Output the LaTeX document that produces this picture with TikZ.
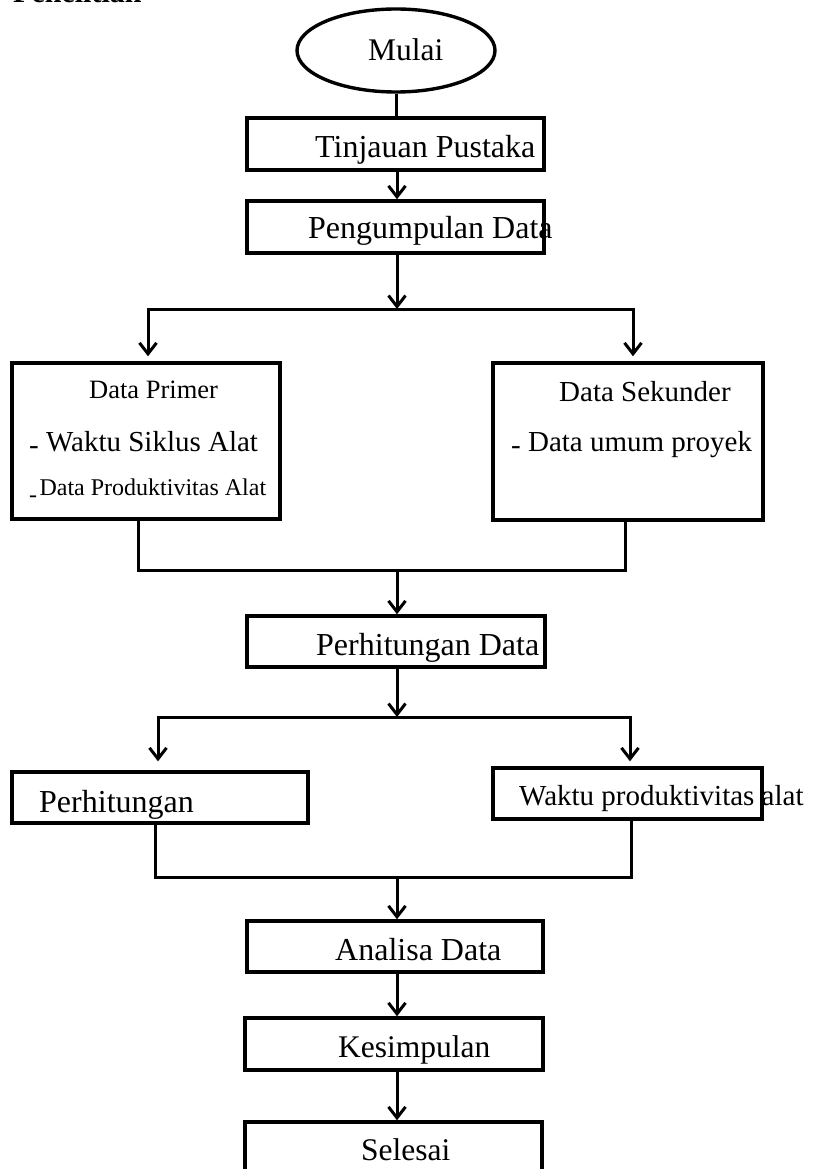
\documentclass[tikz,border=0pt]{standalone}
\usepackage{fontspec}
\setmainfont{Liberation Serif}
\usetikzlibrary{arrows.meta,shapes.geometric}
\newcommand\fsz[1]{\fontsize{#1}{#1}\selectfont}
\tikzset{
  box/.style={draw, line width=3.4pt, rectangle, inner sep=0pt},
  conn/.style={line width=3pt},
  arr/.style={conn, -{Straight Barb[length=11pt,width=17pt]}},
  lbl/.style={anchor=base west, inner sep=0pt, font=\fsz{32}},
}
\begin{document}
\begin{tikzpicture}[x=1pt,y=-1pt]
\clip (0,0) rectangle (813,1169);
\useasboundingbox (0,0) rectangle (813,1169);
\fill[white] (0,0) rectangle (813,1169);

% title (cut off at top)
\node[lbl, font=\bfseries\fsz{30}] (pen) at (13,3) {Penelitian};

% shapes
\node[ellipse, draw, line width=3.4pt, minimum width=198pt, minimum height=83pt, inner sep=0pt] (mulai) at (396,50.5) {};
\node[box, minimum width=297pt, minimum height=52pt] (tp) at (395.5,144) {};
\node[box, minimum width=297pt, minimum height=52pt] (pd) at (395.5,227) {};
\node[box, minimum width=268pt, minimum height=156pt] (dp) at (146,441) {};
\node[box, minimum width=270pt, minimum height=157pt] (ds) at (628,441.5) {};
\node[box, minimum width=298pt, minimum height=51pt] (phd) at (396,641.5) {};
\node[box, minimum width=296pt, minimum height=51pt] (ph) at (160,797.5) {};
\node[box, minimum width=269pt, minimum height=51pt] (wp) at (627.5,793.5) {};
\node[box, minimum width=296pt, minimum height=51pt] (an) at (395,946.5) {};
\node[box, minimum width=298pt, minimum height=52pt] (ks) at (394,1044) {};
\node[box, minimum width=297pt, minimum height=80pt] (sl) at (393.5,1162) {};

% labels
\node[lbl, font=\fsz{31.5}] (tmulai) at (368,61) {Mulai};
\node[lbl] (ttp) at (315,158) {Tinjauan Pustaka};
\node[lbl] (tpd) at (308,238) {Pengumpulan Data};
\node[lbl, font=\fsz{26.5}] (tdp) at (89,398) {Data Primer};
\node[lbl, font=\fsz{29}] (tdp1) at (29,451) {\raisebox{-0.12em}{-} Waktu Siklus Alat};
\node[lbl, font=\fsz{24}] (tdp2) at (29,495) {\raisebox{-0.3em}{-}\hspace{0.1em}Data Produktivitas Alat};
\node[lbl, font=\fsz{29}] (tds) at (559,401) {Data Sekunder};
\node[lbl, font=\fsz{29}] (tds1) at (511,451) {\raisebox{-0.12em}{-} Data umum proyek};
\node[lbl] (tphd) at (316,655) {Perhitungan Data};
\node[lbl] (tph) at (39,812) {Perhitungan};
\node[lbl, font=\fsz{29}] (twp) at (519,805) {Waktu produktivitas alat};
\node[lbl] (tan) at (335,960) {Analisa Data};
\node[lbl, font=\fsz{31.5}] (tks) at (338,1057) {Kesimpulan};
\node[lbl, font=\fsz{31.5}] (tsl) at (361,1160) {Selesai};

% junction coordinates
\coordinate (b1) at (397,309);
\coordinate (b1l) at (148,309);
\coordinate (b1r) at (633,309);
\coordinate (b2) at (397,570);
\coordinate (b2l) at (138,570);
\coordinate (b2r) at (625,570);
\coordinate (b3) at (397,717);
\coordinate (b3l) at (158,717);
\coordinate (b3r) at (630,717);
\coordinate (b4) at (397,877);
\coordinate (b4l) at (155,877);
\coordinate (b4r) at (631,877);

% connectors
\draw[conn] (mulai.south) -- (mulai.south |- tp.north);
\draw[arr] (tp.south -| b1) -- (pd.north -| b1);
\draw[arr] (pd.south -| b1) -- (b1);
\draw[conn, line cap=rect] (b1l) -- (b1r);
\draw[arr, shorten >=5pt] (b1l) -- (b1l |- dp.north);
\draw[arr, shorten >=5pt] (b1r) -- (b1r |- ds.north);
\draw[conn, line cap=rect] (b2l |- dp.south) -- (b2l) -- (b2r) -- (b2r |- ds.south);
\draw[arr] (b2) -- (b2 |- phd.north);
\draw[arr] (phd.south -| b3) -- (b3);
\draw[conn, line cap=rect] (b3l) -- (b3r);
\draw[arr, shorten >=9pt] (b3l) -- (b3l |- ph.north);
\draw[arr, shorten >=5pt] (b3r) -- (b3r |- wp.north);
\draw[conn, line cap=rect] (b4l |- ph.south) -- (b4l) -- (b4r) -- (b4r |- wp.south);
\draw[arr] (b4) -- (b4 |- an.north);
\draw[arr] (an.south -| b4) -- (ks.north -| b4);
\draw[arr] (ks.south -| b4) -- (sl.north -| b4);
\end{tikzpicture}
\end{document}
